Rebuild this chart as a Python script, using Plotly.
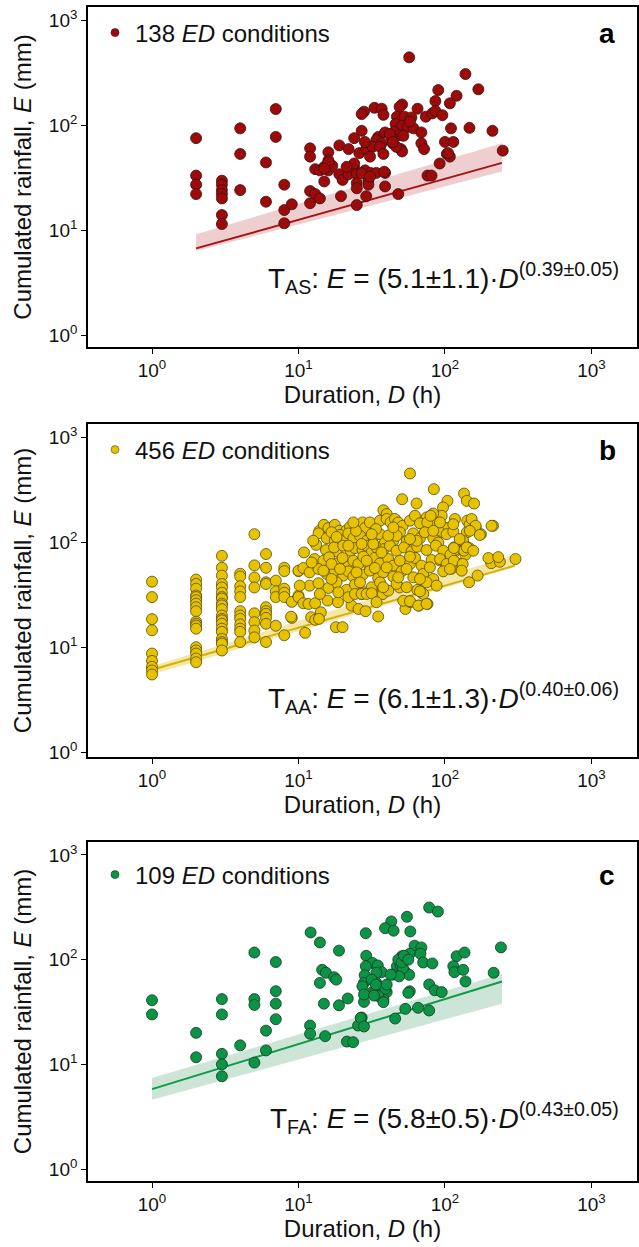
import plotly.graph_objects as go

# ---------------- data ----------------
# Panel a  (T_AS, 138 ED conditions)
duration_a = [57,138,169,90,120,86,108,7,33,37,
              51,49,65,28,27,38,47,53,59,74,
              82,86,96,46,51,56,61,4,110,147,
              211,2,7,27,35,39,45,49,52,43,
              69,24,34,37,100,114,19,22,12,12,
              16,16,16,26,29,32,36,38,44,50,
              51,69,72,103,108,105,92,248,13,14,
              15,16,17,15,19,20,22,24,25,24,
              28.5,31,34,39,30,25,25,39,48,76,
              81,2,2,2,3,3,3,3,4,6,
              8,12,13,14,19.5,29,3,3,3,6,
              8,8,9,12,25,30,4,16,15,28.4,
              30.8,42,57.7,46.5,44,21.3,27,30.8,38.5]
rainfall_a = [441,306,219,215,190,169,161,142,146,143,
              157,149,143,134,127,125,120,120,118,120,
              129,136,124,102,98,96,93,93,93,94,
              88,75,77,88,77,85,86,80,79,77,
              85,75,72,67,69,69,64,59,60,50,
              55,46,42,54,59,62,62,53,67,59,
              56,67,59,53,50,54,43,57,38,37,
              40,37,41,29,34,30,34,39,34,43,
              37,35,35,35,30,28,25,26,22,33,
              33,33,27,22,29.5,27,24,22,24,44,
              27,23.5,22,20,21,21,20,13.9,11.4,18.6,
              15.5,11.6,17.6,18,17.3,27,53,44,38.6,69,
              50,82,108,62,69,40,34.7,32.2,35.9]

# Panel b  (T_AA, 456 ED conditions)
short_durations_b = [1, 2, 3, 4, 5, 6, 7, 8, 9, 10]
short_rainfall_b = [
    [42, 30, 18.5, 14.5, 8.7, 7.4, 6.5, 6.0, 5.5],
    [44, 40, 36, 31, 30, 28, 26, 24, 22, 17.5, 16.7, 16, 15, 10, 9.3, 8.7, 7.8, 7.2],
    [74, 57, 48, 40, 37, 33, 30, 29, 26, 25, 23, 20, 18.6, 18, 16.7, 15, 14, 12, 11.2, 10.8, 9.3],
    [50, 47, 38, 34, 30, 22, 20, 18.6, 16.5, 15, 14, 11.2],
    [119, 60, 46, 37, 21, 17.3, 14.4, 12.4],
    [77, 57, 41.5, 40, 24, 22, 20.8, 19, 16.7, 11.2],
    [43, 34, 30, 16],
    [57, 53, 36, 33, 30, 13],
    [27, 19],
    [53, 31, 30],
]
lower_points_b = [(10.8,26.2),(11.7,25.8),(13,26.2),(14.2,21.5),(12.2,19.3),(13,18.2),(13.8,18.6),(18,15.5),(20,15.5),(11.1,13.7),
                  (23,24.9),(25.7,23.1),(28.7,22),(35,19.6),(53.7,23.1),(58,26.8),(66.5,24.9),(76,25.8),(70,32.6),(146,41.5),
                  (72,41.5),(49,37),(37.6,32),(15.8,27.8),(18.6,26.8),(21.9,34.5),(27,32),(32,34.5),
                  (8.9,19.5),(64.7,35.1),(71.1,32.1)]
right_points_b = [(134,98),(138,76),(117,81),(146,88),(154,149),(150,160),(162,138),(176,119),(213,143),(207,63),
                  (237,65),(303,69),(167,48),(124,62),(111,56),(100,64),(92,67)]
upper_points_b = [(57.7,450),(84,319),(135,290),(141,247),(158,233),(51,256),(64,233),(104,247),(97,214),(95,178),
                  (38,201),(40,185),(83,187),(75,172),(85,151),(74,133),(117,166),(103,136),(92,124),(88,103),
                  (142,160),(147,146),(152,166),(162,143),(141,124),(148,128),(133,103),(173,117),(208,143),(115,89),
                  (115,83),(135,83),(198,70.5),(231,72)]
core_points_b = [(13.9,128),(14.9,146),(16,136),(17.7,146),(19,128),(21.3,130),(22.5,140),(27.4,154),(28.4,136),(30.7,154),
                 (36,160),(40,166),(42.6,154),(45.5,166),(48,154),(51.4,143),(57.7,160),(62.4,178),(67.5,151),(75.7,154),(79.8,178),
                 (13.7,121),(15.6,109),(17.7,103),(19.2,117),(20.8,105),(21.9,121),(23.7,109),(26.3,115),(29.2,103),(32.4,112),
                 (36,119),(38.9,99),(44.4,103),(49.2,124),(54.7,102),(60.8,121),(67.5,109),(72.9,124),(83.2,109),(90,99),(102.6,119),(114,126),
                 (13.2,94),(15.4,84),(18.2,81.7),(17.5,89),(20.2,92.5),(22.7,82.8),(24.3,87.8),(27.4,84),(29.2,92.5),(31.6,79.8),
                 (34.1,89),(38.3,85.9),(42.1,92.5),(46.7,82.8),(52.5,89),(59.2,81.7),(64.7,90.4),(74.9,84),(86.7,92.5),(97.3,82.8),(109,75.9),(115,87.8),
                 (10.9,79.8),(12.9,69),(14.8,66.5),(16.2,71.6),(18.7,62.8),(20,70.6),(21.9,58.4),(23.7,66.5),(25.6,61.9),(27.7,72.7),
                 (30.4,59.7),(33.2,70.6),(36,62.8),(41,69),(44.4,59.7),(49.2,66.5),(57.7,61.9),(62.4,70.6),(69.2,59.7),(81.1,67.6),
                 (92.5,69),(102.6,61.9),(115,66.5),(132,61.9),
                 (10,53.5),(10.8,56.7),(11.9,51.5),(13.7,55.5),(15.6,49.8),(17.7,53.5),(20.2,48),(21.9,52.7),(23.7,46.9),(27.4,49),
                 (30.7,53.5),(35,45.6),(37.9,51.5),(44.4,46.9),(50.6,52.7),(60.8,46.2),(71.1,49.8),(83.2,44.6),(97.3,52.7),(108,55.5),(130,53.5),
                 (11.9,38.5),(13.7,40.6),(16,36.6),(18.2,41.4),(21.3,35.1),(24.3,39.4),(28,33.3),(31.6,37.2),(36,41.4),(41,34.5),
                 (46.7,40),(54.7,37.2),(67.5,34),(74.9,41.4),(87.7,38.5),
                 (18.7,33.3),(21.9,29.9),(24.3,32.1),(27,32.1),(29.2,32.1),(31.6,32.6),(34.1,26.8),(51.9,27.7),(57.7,27.4),(65.8,24.9),(74.9,25.8)]
dense_points_b = [(16.8,124),(24.7,128),(33.8,133),(46.7,115),(64.1,103),(27,96),(36.9,79.8),(57.7,72.7),(16.8,61.9),(29.2,66.5),
                  (40,57.5),(54.7,55.5),(78.9,57.5),(19.2,55.5),(24.9,51.5),(33.2,56.7),(48,46.2),(67.5,44.6),(26.3,41.4),(37.9,37.2),
                  (16.8,44.6),(14.8,53.5),(21.9,92.5),(32.4,96),(41,115),(57.7,107),(83.2,128),(126,107),(141,89),(156,82.8),
                  (92.5,154),(114,148),(44.4,138),(31.6,119),(23.7,154),(18.2,112),(12.6,103),(12.3,64),(10.2,38.5),(14,32.1)]

# Panel c  (T_FA, 109 ED conditions)
points_c = [(78,315),(89.5,288),(55,257),(43,232),(39,200),(44.6,189),(58,186),(12.1,182),(28.8,179),(14,146),
            (62,136),(69,131),(241,131),(5,117),(18.9,122),(57.5,114),(50.8,108),(68,114),(120,108),(136,117),
            (7,95),(29,109),(71,94),(82,92),(32,93),(34.8,88),(37,76),(34,75),(28.8,86.5),(28.3,71),
            (28,60),(27.3,55.7),(47,86.5),(49.7,89.6),(53,78),(57,71.6),(44,72),(51.6,83),(14.5,80),(15.4,75),
            (17.5,68),(18.1,64.5),(114,86.5),(116,76),(138,62),(215,75),(14,60),(78,58),(85,51),(95,49),
            (34,60),(34.8,55.7),(36.5,51),(40,49),(39,52.6),(32,49),(57.5,49.9),(38,41.6),(33,47.4),(35,45),
            (3,42),(3,30),(1,41),(1,30),(5,42),(5,37),(7,50),(7,38),(14.9,38),(18.9,36.7),
            (21.7,42.6),(28,39.5),(53.6,33.9),(65.5,34.7),(78,32.7),(45.7,27.4),(27,28),(7,27),(2,20),(2,11.7),
            (3,12.6),(3,10),(3,7.7),(4,15.2),(5,10.4),(6,21),(6,13.6),(12,23.5),(12,19.6),(15.2,18.6),
            (21.4,16.5),(23.6,16.3),(25.5,23.5),(26.6,27.8),(38,39.3),(28,46.5),(31.6,64.5),(33.8,57.8),(32.8,45.4),(40,57.8),
            (48,100),(50.6,94.4),(52.5,109),(56.2,100),(48.7,69.3),(42.6,72),(56.2,48.2),(28,23),(133,80)]

# Fitted thresholds: coefficient, exponent, duration span of the line
fit_coef = [5.1, 6.1, 5.8]
fit_exp = [0.39, 0.40, 0.43]
fit_span = [[2, 245], [1, 300], [1, 245]]
# Uncertainty band limits read at the two ends of each line
band_low = [[6.3, 36], [5.5, 58], [4.6, 38]]
band_high = [[9.1, 67], [6.6, 76], [7.4, 73]]

counts = [138, 456, 109]
panel_letters = ["a", "b", "c"]
equations = ["T<sub>AS</sub>: <i>E</i> = (5.1±1.1)·<i>D</i><sup>(0.39±0.05)</sup>",
             "T<sub>AA</sub>: <i>E</i> = (6.1±1.3)·<i>D</i><sup>(0.40±0.06)</sup>",
             "T<sub>FA</sub>: <i>E</i> = (5.8±0.5)·<i>D</i><sup>(0.43±0.05)</sup>"]
tick_values = [1, 10, 100, 1000]
tick_labels = ["10<sup>0</sup>", "10<sup>1</sup>", "10<sup>2</sup>", "10<sup>3</sup>"]

# ---------------- assemble ----------------
dur_b, rain_b = [], []
for d, col in zip(short_durations_b, short_rainfall_b):
    for e in col:
        dur_b.append(d)
        rain_b.append(e)
for grp in (lower_points_b, right_points_b, upper_points_b, core_points_b, dense_points_b):
    for d, e in grp:
        dur_b.append(d)
        rain_b.append(e)
dur_c = [p[0] for p in points_c]
rain_c = [p[1] for p in points_c]

series = [(duration_a, rainfall_a), (dur_b, rain_b), (dur_c, rain_c)]

marker_colors = ["#9C0A0A", "#E6C200", "#0C9446"]
line_colors = ["#A51414", "#D6B200", "#0E9A48"]
band_colors = ["rgba(185,50,50,0.24)", "rgba(228,195,40,0.40)", "rgba(40,145,85,0.24)"]
outline = ["#3a1010", "#5a4a00", "#103a20"]

FONT = "Liberation Sans, Arial, sans-serif"
W, H = 639, 1247
ML, MR, MT, MB = 88, 2, 7, 66
PH = H - MT - MB
PW = W - ML - MR
# panel frames (pixel top/bottom) and their log10 rainfall ranges
frames = [(7, 347), (424, 757), (842, 1181)]
y_ranges = [[-0.114, 3.124], [-0.045, 3.124], [-0.114, 3.124]]
legend_y_px = [33, 450, 875]
eq_y_px = [278, 698, 1118]


def py(p):
    return (H - MB - p) / PH


fig = go.Figure()
layout = dict()
annotations = []

for i in range(3):
    ax = "" if i == 0 else str(i + 1)
    xref, yref = "x" + ax, "y" + ax
    lg = "legend" if i == 0 else "legend" + str(i + 1)
    a, b = fit_coef[i], fit_exp[i]
    d0, d1 = fit_span[i]

    # uncertainty band
    fig.add_trace(go.Scatter(x=[d0, d1], y=band_low[i], mode="lines", line=dict(width=0),
                             hoverinfo="skip", showlegend=False, xaxis=xref, yaxis=yref))
    fig.add_trace(go.Scatter(x=[d0, d1], y=band_high[i], mode="lines", line=dict(width=0),
                             fill="tonexty", fillcolor=band_colors[i],
                             hoverinfo="skip", showlegend=False, xaxis=xref, yaxis=yref))
    # fitted threshold line
    fig.add_trace(go.Scatter(x=[d0, d1], y=[a * d0 ** b, a * d1 ** b], mode="lines",
                             line=dict(color=line_colors[i], width=2),
                             showlegend=False, xaxis=xref, yaxis=yref))
    # ED conditions
    xs, ys = series[i]
    fig.add_trace(go.Scatter(x=xs, y=ys, mode="markers",
                             marker=dict(size=11, color=marker_colors[i],
                                         line=dict(color=outline[i], width=0.8)),
                             showlegend=False, xaxis=xref, yaxis=yref))
    # legend entry (smaller symbol, as in the reference)
    fig.add_trace(go.Scatter(x=[None], y=[None], mode="markers",
                             marker=dict(size=8, color=marker_colors[i],
                                         line=dict(color=outline[i], width=0.6)),
                             name=f"{counts[i]} <i>ED</i> conditions",
                             showlegend=True, legend=lg, xaxis=xref, yaxis=yref))

    top, bot = frames[i]
    layout["xaxis" + ax] = dict(
        type="log", range=[-0.437, 3.311], domain=[0, 1], anchor=yref, automargin=False,
        tickvals=tick_values, ticktext=tick_labels,
        ticks="outside", ticklen=5, tickwidth=1.4, tickcolor="black",
        showline=True, linecolor="black", linewidth=1.6, mirror=True,
        showgrid=False, zeroline=False,
        tickfont=dict(family=FONT, size=19, color="#111"),
        title=dict(text="Duration, <i>D</i> (h)", font=dict(family=FONT, size=24, color="#111"), standoff=2),
    )
    layout["yaxis" + ax] = dict(
        type="log", range=y_ranges[i], domain=[py(bot), py(top)], anchor=xref, automargin=False,
        tickvals=tick_values, ticktext=tick_labels,
        ticks="outside", ticklen=5, tickwidth=1.4, tickcolor="black",
        showline=True, linecolor="black", linewidth=1.6, mirror=True,
        showgrid=False, zeroline=False,
        tickfont=dict(family=FONT, size=19, color="#111"),
        title=dict(text="Cumulated rainfall, <i>E</i> (mm)", font=dict(family=FONT, size=24, color="#111"), standoff=10),
    )
    layout[lg] = dict(x=(95 - ML) / PW, y=py(legend_y_px[i]), xanchor="left", yanchor="middle",
                      bgcolor="rgba(0,0,0,0)", borderwidth=0,
                      font=dict(family=FONT, size=24, color="#111"))
    annotations.append(dict(text=f"<b>{panel_letters[i]}</b>", xref="paper", yref="paper",
                            x=(607 - ML) / PW, y=py(legend_y_px[i]),
                            xanchor="center", yanchor="middle", showarrow=False,
                            font=dict(family=FONT, size=28, color="black")))
    annotations.append(dict(text=equations[i], xref="paper", yref="paper",
                            x=(621 - ML) / PW, y=py(eq_y_px[i]),
                            xanchor="right", yanchor="middle", showarrow=False,
                            font=dict(family=FONT, size=28, color="#111")))

fig.update_layout(**layout)
fig.update_layout(width=W, height=H, margin=dict(l=ML, r=MR, t=MT, b=MB, autoexpand=False),
                  paper_bgcolor="white", plot_bgcolor="white",
                  annotations=annotations, font=dict(family=FONT))
# remove the browser's default 8px page margin so the figure fills the window exactly
fig.write_html("out.html", config={"displayModeBar": False, "displaylogo": False},
               post_script="document.body.style.margin='0';document.body.style.padding='0';")
